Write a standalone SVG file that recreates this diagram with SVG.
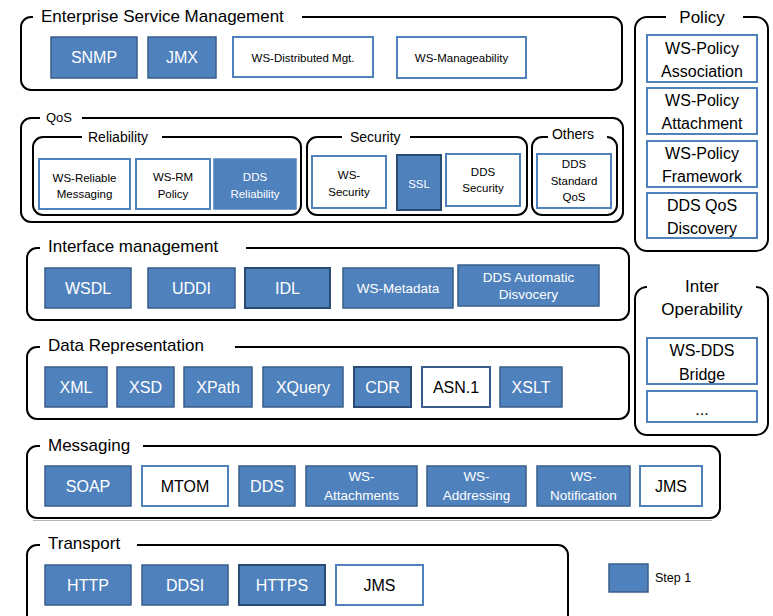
<svg xmlns="http://www.w3.org/2000/svg" width="773" height="616" viewBox="0 0 773 616">
<style>
text{font-family:"Liberation Sans",Arial,sans-serif;text-anchor:middle}
.c{fill:none;stroke:#000;stroke-width:2}
.b{fill:#4F81BD;stroke:#385D8A;stroke-width:1.5}
.dk{stroke:#2A4B73;stroke-width:2}
.w{fill:#fff;stroke:#4F81BD;stroke-width:2}
.t{font-size:17px;fill:#000;text-anchor:start}
.tm{font-size:14px;fill:#000;text-anchor:start}
.L{font-size:16px}
.M{font-size:13.5px}
.S{font-size:11.5px}
.wt{fill:#fff}
.bk{fill:#000}
</style>
<rect width="773" height="616" fill="#fff"/>
<g id="containers">
<path id="esm-frame" class="c" d="M302,17 H612 A10,10 0 0 1 622,27 V80 A10,10 0 0 1 612,90 H31 A10,10 0 0 1 21,80 V27 A10,10 0 0 1 31,17 H33"/>
<path id="policy-frame" class="c" d="M743,17 H756 A12,12 0 0 1 768,29 V239 A12,12 0 0 1 756,251 H647 A12,12 0 0 1 635,239 V29 A12,12 0 0 1 647,17 H666"/>
<path id="qos-frame" class="c" d="M82,118 H613 A10,10 0 0 1 623,128 V212 A10,10 0 0 1 613,222 H31 A10,10 0 0 1 21,212 V128 A10,10 0 0 1 31,118 H40"/>
<path id="rel-frame" class="c" d="M162,137 H291 A10,10 0 0 1 301,147 V205 A10,10 0 0 1 291,215 H43 A10,10 0 0 1 33,205 V147 A10,10 0 0 1 43,137 H82"/>
<path id="sec-frame" class="c" d="M410,137 H517 A10,10 0 0 1 527,147 V205 A10,10 0 0 1 517,215 H317 A10,10 0 0 1 307,205 V147 A10,10 0 0 1 317,137 H342"/>
<path id="oth-frame" class="c" d="M607,137 A10,10 0 0 1 617,147 V205 A10,10 0 0 1 607,215 H542 A10,10 0 0 1 532,205 V147 A10,10 0 0 1 542,137 H548"/>
<path id="if-frame" class="c" d="M246,248 H619 A10,10 0 0 1 629,258 V310 A10,10 0 0 1 619,320 H37 A10,10 0 0 1 27,310 V258 A10,10 0 0 1 37,248 H40"/>
<path id="dr-frame" class="c" d="M235,347 H619 A10,10 0 0 1 629,357 V409 A10,10 0 0 1 619,419 H37 A10,10 0 0 1 27,409 V357 A10,10 0 0 1 37,347 H40"/>
<path id="io-frame" class="c" d="M756,287 A12,12 0 0 1 768,299 V423 A12,12 0 0 1 756,435 H647 A12,12 0 0 1 635,423 V299 A12,12 0 0 1 647,287"/>
<path id="msg-frame" class="c" d="M143,446 H710 A10,10 0 0 1 720,456 V508 A10,10 0 0 1 710,518 H37 A10,10 0 0 1 27,508 V456 A10,10 0 0 1 37,446 H40"/>
<line x1="33" y1="520.5" x2="712" y2="520.5" stroke="#b5b5b5" stroke-width="1"/>
<path id="tr-frame" class="c" d="M137,545 H558 A10,10 0 0 1 568,555 V626 M27,626 V555 A10,10 0 0 1 37,545 H40"/>
<text class="t" x="41" y="22">Enterprise Service Management</text>
<text class="t" x="702" y="23" style="text-anchor:middle">Policy</text>
<text class="tm" x="46" y="122" style="font-size:13px">QoS</text>
<text class="tm" x="88" y="142">Reliability</text>
<text class="tm" x="350" y="142">Security</text>
<text class="tm" x="573" y="139" style="text-anchor:middle">Others</text>
<text class="t" x="48" y="252">Interface management</text>
<text class="t" x="48" y="351">Data Representation</text>
<text class="t" x="702" y="292" style="text-anchor:middle">Inter</text>
<text class="t" x="702" y="315" style="text-anchor:middle">Operability</text>
<text class="t" x="48" y="451">Messaging</text>
<text class="t" x="48" y="549">Transport</text>
</g>
<g id="esm">
<g id="snmp"><rect class="b" x="51" y="37" width="86" height="41"/><text class="L wt" x="94" y="63">SNMP</text></g>
<g id="jmx"><rect class="b" x="148" y="37" width="68" height="41"/><text class="L wt" x="182" y="63">JMX</text></g>
<g id="wsdm"><rect class="w" x="233" y="37" width="140" height="40"/><text class="S bk" x="303" y="62">WS-Distributed Mgt.</text></g>
<g id="wsman"><rect class="w" x="397" y="37" width="129" height="41"/><text class="S bk" x="461.5" y="62">WS-Manageability</text></g>
</g>
<g id="policy">
<g id="wspa"><rect class="w" x="647" y="35" width="110" height="47"/><text class="L bk" x="702" y="54">WS-Policy</text><text class="L bk" x="702" y="77">Association</text></g>
<g id="wspat"><rect class="w" x="647" y="88" width="110" height="46"/><text class="L bk" x="702" y="106">WS-Policy</text><text class="L bk" x="702" y="129">Attachment</text></g>
<g id="wspf"><rect class="w" x="647" y="141" width="110" height="46"/><text class="L bk" x="702" y="159">WS-Policy</text><text class="L bk" x="702" y="182">Framework</text></g>
<g id="ddsqos"><rect class="w" x="647" y="193" width="110" height="45"/><text class="L bk" x="702" y="211">DDS QoS</text><text class="L bk" x="702" y="234">Discovery</text></g>
</g>
<g id="qos">
<g id="wsrm"><rect class="w" x="39" y="159" width="91" height="50"/><text class="S bk" x="84.5" y="182">WS-Reliable</text><text class="S bk" x="84.5" y="198">Messaging</text></g>
<g id="wsrmp"><rect class="w" x="136" y="159" width="74" height="50"/><text class="S bk" x="173" y="181">WS-RM</text><text class="S bk" x="173" y="198">Policy</text></g>
<g id="ddsrel"><rect class="b" x="214" y="159" width="82" height="50" style="stroke:#4F81BD"/><text class="S wt" x="255" y="181">DDS</text><text class="S wt" x="255" y="198">Reliability</text></g>
<g id="wssec"><rect class="w" x="312" y="156" width="74" height="52"/><text class="S bk" x="349" y="179">WS-</text><text class="S bk" x="349" y="196">Security</text></g>
<g id="ssl"><rect class="b dk" x="397" y="155" width="44" height="55"/><text class="S wt" x="419" y="188">SSL</text></g>
<g id="ddssec"><rect class="w" x="446" y="154" width="74" height="52"/><text class="S bk" x="483" y="176">DDS</text><text class="S bk" x="483" y="192">Security</text></g>
<g id="ddsstd"><rect class="w" x="537" y="154" width="74" height="54"/><text class="S bk" x="574" y="168">DDS</text><text class="S bk" x="574" y="185">Standard</text><text class="S bk" x="574" y="201">QoS</text></g>
</g>
<g id="interface">
<g id="wsdl"><rect class="b" x="45" y="268" width="86" height="40"/><text class="L wt" x="88" y="294">WSDL</text></g>
<g id="uddi"><rect class="b" x="148" y="268" width="87" height="40"/><text class="L wt" x="191.5" y="294">UDDI</text></g>
<g id="idl"><rect class="b dk" x="245" y="268" width="85" height="40"/><text class="L wt" x="287.5" y="294">IDL</text></g>
<g id="wsmeta"><rect class="b" x="343" y="268" width="110" height="40"/><text class="M wt" x="398" y="293">WS-Metadata</text></g>
<g id="ddsauto"><rect class="b" x="458" y="265" width="141" height="41"/><text class="M wt" x="528.5" y="282">DDS Automatic</text><text class="M wt" x="528.5" y="299">Disvocery</text></g>
</g>
<g id="datarep">
<g id="xml"><rect class="b" x="45" y="367" width="62" height="40"/><text class="L wt" x="76" y="393">XML</text></g>
<g id="xsd"><rect class="b" x="117" y="367" width="57" height="40"/><text class="L wt" x="145.5" y="393">XSD</text></g>
<g id="xpath"><rect class="b" x="184" y="367" width="68" height="40"/><text class="L wt" x="218" y="393">XPath</text></g>
<g id="xquery"><rect class="b" x="263" y="367" width="80" height="40"/><text class="L wt" x="303" y="393">XQuery</text></g>
<g id="cdr"><rect class="b dk" x="354" y="367" width="57" height="40"/><text class="L wt" x="382.5" y="393">CDR</text></g>
<g id="asn1"><rect class="w" x="422" y="367" width="68" height="40" style="stroke:#385D8A"/><text class="L bk" x="456" y="393">ASN.1</text></g>
<g id="xslt"><rect class="b" x="500" y="367" width="62" height="40"/><text class="L wt" x="531" y="393">XSLT</text></g>
</g>
<g id="interop">
<g id="wsdds"><rect class="w" x="647" y="338" width="110" height="46"/><text class="L bk" x="702" y="356">WS-DDS</text><text class="L bk" x="702" y="380">Bridge</text></g>
<g id="more"><rect class="w" x="647" y="391" width="110" height="31"/><text class="L bk" x="702" y="415">...</text></g>
</g>
<g id="messaging">
<g id="soap"><rect class="b" x="45" y="466" width="86" height="40"/><text class="L wt" x="88" y="492">SOAP</text></g>
<g id="mtom"><rect class="w" x="142" y="466" width="86" height="40"/><text class="L bk" x="185" y="492">MTOM</text></g>
<g id="dds"><rect class="b" x="239" y="466" width="56" height="40"/><text class="L wt" x="267" y="492">DDS</text></g>
<g id="wsatt"><rect class="b" x="306" y="466" width="111" height="40"/><text class="M wt" x="361.5" y="481">WS-</text><text class="M wt" x="361.5" y="500">Attachments</text></g>
<g id="wsaddr"><rect class="b" x="427" y="466" width="99" height="40"/><text class="M wt" x="476.5" y="481">WS-</text><text class="M wt" x="476.5" y="500">Addressing</text></g>
<g id="wsnot"><rect class="b" x="537" y="466" width="93" height="40"/><text class="M wt" x="583.5" y="481">WS-</text><text class="M wt" x="583.5" y="500">Notification</text></g>
<g id="jms1"><rect class="w" x="640" y="466" width="62" height="40"/><text class="L bk" x="671" y="492">JMS</text></g>
</g>
<g id="transport">
<g id="http"><rect class="b" x="45" y="565" width="86" height="40"/><text class="L wt" x="88" y="591">HTTP</text></g>
<g id="ddsi"><rect class="b" x="142" y="565" width="86" height="40"/><text class="L wt" x="185" y="591">DDSI</text></g>
<g id="https"><rect class="b dk" x="239" y="565" width="86" height="40"/><text class="L wt" x="282" y="591">HTTPS</text></g>
<g id="jms2"><rect class="w" x="336" y="565" width="87" height="40"/><text class="L bk" x="379.5" y="591">JMS</text></g>
</g>
<g id="legend">
<rect class="b" x="609" y="564" width="39" height="28"/>
<text x="655" y="582" style="font-size:12.5px;text-anchor:start;fill:#000">Step 1</text>
</g>
<g id="connectors"/>
</svg>
